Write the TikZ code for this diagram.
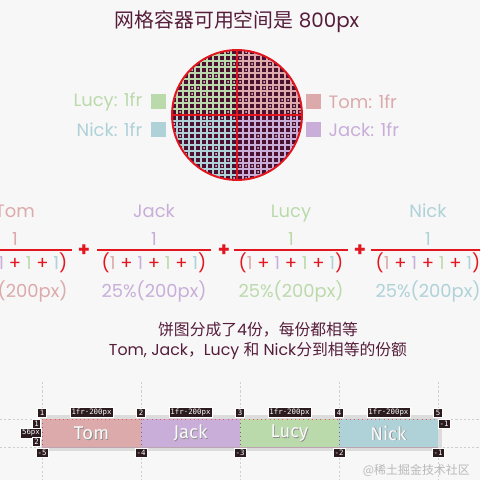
\documentclass[tikz,border=0pt]{standalone}
\usepackage{fontspec}
\setmainfont{Poppins}
\newfontfamily\cjk{Noto Sans CJK SC}
\newfontfamily\cellfont{Fira Sans}
\newfontfamily\badgefont{DejaVu Sans Mono}
\usetikzlibrary{positioning,calc}
\definecolor{pagebg}{HTML}{F7F7F7}
\definecolor{inkmaroon}{HTML}{561D3B}
\definecolor{piebg}{HTML}{4C1030}
\definecolor{pired}{HTML}{E3161F}
\definecolor{tomc}{HTML}{DCAAAA}
\definecolor{jackc}{HTML}{C8AED9}
\definecolor{lucyc}{HTML}{BBDAAB}
\definecolor{nickc}{HTML}{AED2D8}
\definecolor{badgebk}{HTML}{2B1B1F}
\definecolor{trackgray}{HTML}{DCDCDC}
\definecolor{guidegray}{HTML}{CFCFCF}
\newcommand{\fourones}{\textcolor{pired}{(}\textcolor{tomc}{1} \textcolor{pired}{+} \textcolor{jackc}{1} \textcolor{pired}{+} \textcolor{lucyc}{1} \textcolor{pired}{+} \textcolor{nickc}{1}\textcolor{pired}{)}}

\begin{document}
\begin{tikzpicture}[
    x=0.02cm, y=-0.02cm,
    every node/.style={font=\fontsize{10.2}{12}\selectfont},
    title/.style={text=inkmaroon, font=\fontsize{11.3}{13}\selectfont},
    legend/.style={inner sep=0pt, font=\fontsize{10.2}{12}\selectfont},
    swatch/.style={minimum size=0.3cm, inner sep=0pt},
    pie/.style={circle, draw=pired, line width=1.1pt, minimum size=2.6cm, inner sep=0pt},
    gridline/.style={line width=0.7pt},
    redline/.style={pired, line width=1.1pt},
    fracbar/.style={pired, line width=0.9pt},
    frac/.style={anchor=base},
    plus/.style={text=pired, font=\bfseries\fontsize{11}{12}\selectfont},
    note/.style={text=inkmaroon, align=center, font=\fontsize{9}{11.3}\selectfont},
    guide/.style={guidegray, dash pattern=on 1.2pt off 1.2pt, line width=0.4pt},
    cell/.style={minimum width=1.98cm, minimum height=0.56cm, inner sep=0pt,
                 outer sep=0pt, text=white!95!gray, font=\cellfont\fontsize{10.5}{11}\selectfont},
    cellshade/.style={text=black!45, font=\cellfont\fontsize{10.5}{11}\selectfont},
    celldiv/.style={inkmaroon!70, dotted, line width=0.4pt},
    badge/.style={fill=badgebk, draw=white, line width=0.3pt, text=white,
                  inner sep=0.8pt, minimum height=0.19cm, minimum width=0.17cm,
                  font=\badgefont\fontsize{4.2}{4.5}\selectfont},
    wm/.style={text=gray!55, anchor=east, font=\cjk\fontsize{6.8}{8}\selectfont},
]

\fill[pagebg] (0,0) rectangle (480,480);
\useasboundingbox (0,0) rectangle (480,480);
\clip (0,0) rectangle (480,480);

% Title
\node[title] (title) at (237,22) {{\cjk 网格容器可用空间是} 800px};

% Pie made of grid cells
\begin{scope}
  \clip (237,115) circle [radius=65];
  \fill[piebg] (172,50) rectangle (302,180);
  \foreach \sx/\sy/\qc in {-1/-1/lucyc, 1/-1/tomc, -1/1/nickc, 1/1/jackc}{
    \begin{scope}
      \clip (237,115) rectangle ++(65*\sx,65*\sy);
      \foreach \k in {1,...,11}{
        \draw[gridline, \qc] (237+6*\k*\sx,50) -- (237+6*\k*\sx,180);
        \draw[gridline, \qc] (172,115+6*\k*\sy) -- (302,115+6*\k*\sy);
      }
    \end{scope}
  }
  \pgfmathsetseed{42}
  \foreach \i in {-11,...,10}{
    \foreach \j in {-11,...,10}{
      \pgfmathtruncatemacro\hasdot{rnd<0.22}
      \ifnum\i<0
        \ifnum\j<0 \def\dc{lucyc}\else\def\dc{nickc}\fi
      \else
        \ifnum\j<0 \def\dc{tomc}\else\def\dc{jackc}\fi
      \fi
      \ifnum\hasdot=1
        \fill[\dc!50!white] (240+6*\i,118+6*\j) circle [radius=1];
      \fi
    }
  }
\end{scope}
\node[pie] (pie) at (237,115) {};
\draw[redline] (pie.north) -- (pie.south);
\draw[redline] (pie.west) -- (pie.east);

% Legend
\node[swatch, fill=lucyc] (lucysw) at (158.5,101.5) {};
\node[swatch, fill=nickc] (nicksw) at (158.5,129.5) {};
\node[swatch, fill=tomc] (tomsw) at (313.5,101.5) {};
\node[swatch, fill=jackc] (jacksw) at (313.5,129.5) {};
\node[legend, text=lucyc, left=0.16cm of lucysw] (lucylbl) {Lucy: 1fr};
\node[legend, text=nickc, left=0.16cm of nicksw] (nicklbl) {Nick: 1fr};
\node[legend, text=tomc, right=0.14cm of tomsw] (tomlbl) {Tom: 1fr};
\node[legend, text=jackc, right=0.14cm of jacksw] (jacklbl) {Jack: 1fr};

% Fractions
\foreach \who/\c/\x in {Tom/tomc/15, Jack/jackc/154, Lucy/lucyc/291, Nick/nickc/428}{
  \node[frac, text=\c] (\who-name) at (\x,217) {\who};
  \node[frac, text=\c] (\who-num) at (\x,245) {1};
  \node[frac] (\who-den) at (\x,269) {\fourones};
  \node[frac, text=\c] (\who-pct) at (\x,297) {25\%(200px)};
  \draw[fracbar] (\x-57,250) -- (\x+57,250);
}
\node[plus] (plus1) at (84,251) {+};
\node[plus] (plus2) at (224,251) {+};
\node[plus] (plus3) at (360,251) {+};

% Note
\node[note] (note) at (258,341) {{\cjk 饼图分成了}4{\cjk 份，每份都相等}\\
  Tom, Jack{\cjk ，}Lucy {\cjk 和} Nick{\cjk 分到相等的份额}};

% Grid inspector
\foreach \gx in {42,141,240,339,438}
  \draw[guide] (\gx,382) -- (\gx,480);
\foreach \gy in {419,447}
  \draw[guide] (0,\gy) -- (480,\gy);
\fill[trackgray] (40,415) rectangle (442,451);

\node[cell, fill=tomc] (tomcell) at (91.5,433) {};
\node[cell, fill=jackc, right=0pt of tomcell] (jackcell) {};
\node[cell, fill=lucyc, right=0pt of jackcell] (lucycell) {};
\node[cell, fill=nickc, right=0pt of lucycell] (nickcell) {};
\foreach \cname/\txt in {tomcell/Tom, jackcell/Jack, lucycell/Lucy, nickcell/Nick}{
  \node[cellshade] (\cname-shade) at ($(\cname)+(0.8,0.8)$) {\txt};
  \node[cell] (\cname-text) at (\cname) {\txt};
}

\draw[celldiv] (tomcell.north west) -- (tomcell.south west);
\foreach \a in {tomcell,jackcell,lucycell}
  \draw[celldiv] (\a.north east) -- (\a.south east);
\draw[celldiv, pired!70] (tomcell.north west) -- (nickcell.north east);
\draw[inkmaroon!40, line width=0.4pt] (tomcell.south west) -- (nickcell.south east);

% Line number badges
\foreach \n/\gx in {1/42, 2/141, 3/240, 4/339, 5/438}
  \node[badge] (top\n) at (\gx,413) {\n};
\foreach \n/\gx in {5/42, 4/141, 3/240, 2/339, 1/438}
  \node[badge] (bot\n) at (\gx,453) {-\n};
\foreach \cname in {tomcell,jackcell,lucycell,nickcell}
  \node[badge] (\cname-size) at ($(\cname.north)+(0,-7)$) {1fr·200px};
\node[badge] (rowtop) at (36.5,424) {1};
\node[badge] (rowsize) at (31,433) {56px};
\node[badge] (rowbot) at (36.5,442) {2};
\node[badge] (rowend) at (444,424) {-1};

% Watermark
\node[wm] (wm) at (476,470) {@稀土掘金技术社区};

\end{tikzpicture}
\end{document}
